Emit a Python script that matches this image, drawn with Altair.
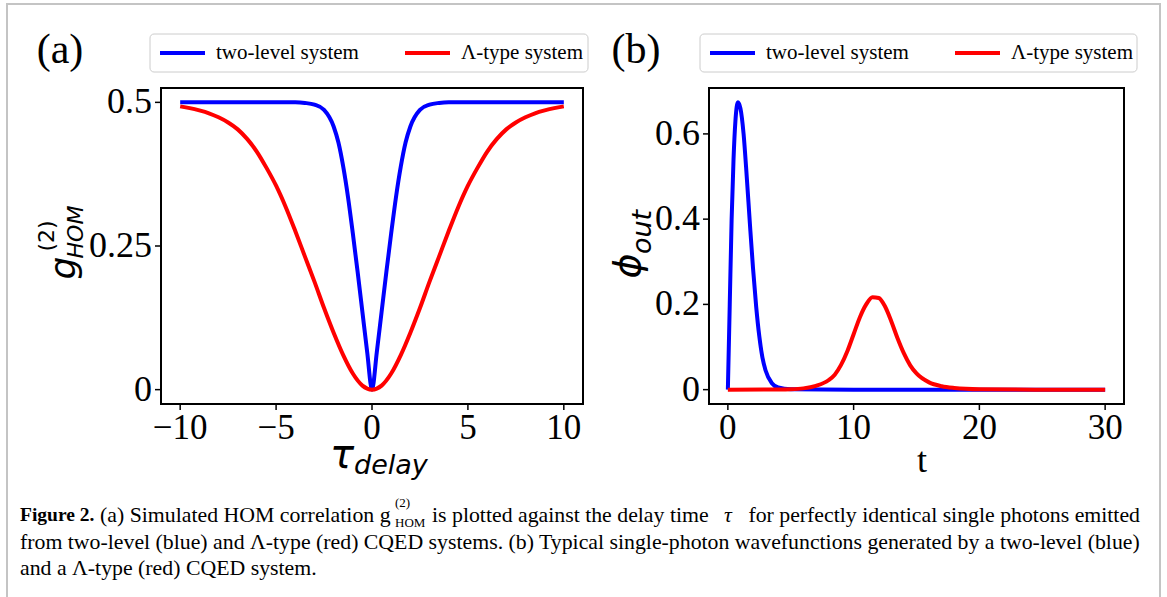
import altair as alt
import pandas as pd

SERIES = ["two-level system", "Λ-type system"]
COLORS = ["#0000ff", "#ff0000"]

# ---------------- panel (a): HOM correlation vs delay ----------------
tau_two = [-10, -6, -4, -3.5, -3, -2.5, -2, -1.75, -1.5, -1.25, -1, -0.75, -0.5, -0.25, 0,
           0.25, 0.5, 0.75, 1, 1.25, 1.5, 1.75, 2, 2.5, 3, 3.5, 4, 6, 10]
g_two = [0.5, 0.5, 0.5, 0.499, 0.496, 0.487, 0.458, 0.43, 0.388, 0.335, 0.272, 0.205, 0.135, 0.065, 0.0,
         0.065, 0.135, 0.205, 0.272, 0.335, 0.388, 0.43, 0.458, 0.487, 0.496, 0.499, 0.5, 0.5, 0.5]
tau_lam = [-10, -9.5, -9, -8.5, -8, -7.5, -7, -6.5, -6, -5.5, -5, -4.5, -4, -3.5, -3, -2.5, -2, -1.5, -1, -0.5, 0,
           0.5, 1, 1.5, 2, 2.5, 3, 3.5, 4, 4.5, 5, 5.5, 6, 6.5, 7, 7.5, 8, 8.5, 9, 9.5, 10]
g_lam = [0.493, 0.49, 0.486, 0.481, 0.474, 0.465, 0.453, 0.436, 0.414, 0.386, 0.355, 0.318, 0.276, 0.232, 0.188, 0.142, 0.099, 0.06, 0.028, 0.007, 0.0,
         0.007, 0.028, 0.06, 0.099, 0.142, 0.188, 0.232, 0.276, 0.318, 0.355, 0.386, 0.414, 0.436, 0.453, 0.465, 0.474, 0.481, 0.486, 0.49, 0.493]

# ---------------- panel (b): output wavefunctions ----------------
t_two = [0, 0.15, 0.3, 0.45, 0.6, 0.8, 1.0, 1.25, 1.5, 1.75, 2.0, 2.25, 2.5, 2.75, 3.0, 3.5, 4.0, 5.0, 10, 20, 30]
phi_two = [0, 0.2, 0.4, 0.54, 0.63, 0.674, 0.66, 0.6, 0.5, 0.39, 0.285, 0.195, 0.125, 0.075, 0.045, 0.015, 0.005, 0.001, 0, 0, 0]
t_lam = [0, 4, 5, 6, 7, 8, 8.5, 9, 9.5, 10, 10.5, 11, 11.5, 12, 12.5, 13, 13.5, 14, 14.5, 15, 16, 17, 18, 20, 25, 30]
phi_lam = [0, 0.0005, 0.001, 0.003, 0.009, 0.022, 0.035, 0.058, 0.09, 0.13, 0.17, 0.2, 0.217, 0.215, 0.195, 0.16,
           0.12, 0.085, 0.057, 0.038, 0.017, 0.008, 0.004, 0.001, 0, 0]

# tick values / labels
xa_ticks = [-10, -5, 0, 5, 10]
xa_labels = ["−10", "−5", "0", "5", "10"]
ya_ticks = [0, 0.25, 0.5]
ya_labels = ["0", "0.25", "0.5"]
xb_ticks = [0, 10, 20, 30]
xb_labels = ["0", "10", "20", "30"]
yb_ticks = [0, 0.2, 0.4, 0.6]
yb_labels = ["0", "0.2", "0.4", "0.6"]

caption_l1 = ["Figure 2.", "(a) Simulated HOM correlation g", "(2)", "HOM",
              "is plotted against the delay time", "τ", "for perfectly identical single photons emitted"]
caption_l2 = "from two-level (blue) and Λ-type (red) CQED systems. (b) Typical single-photon wavefunctions generated by a two-level (blue)"
caption_l3 = "and a Λ-type (red) CQED system."

SERIF = "Liberation Serif"
MATH = "DejaVu Sans"

# layout (pixels)
A_L, A_R, TOP, BOT = 161, 583, 88, 404
B_L, B_R = 709, 1124

xa = alt.Scale(domain=[-11, 11], range=[A_L, A_R])
ya = alt.Scale(domain=[-0.025, 0.525], range=[BOT, TOP])
xb = alt.Scale(domain=[-1.5, 31.5], range=[B_L, B_R])
yb = alt.Scale(domain=[-0.0337, 0.7077], range=[BOT, TOP])
cscale = alt.Scale(domain=SERIES, range=COLORS)

one = pd.DataFrame({"k": [0]})


def curves(xs1, ys1, xs2, ys2, xs, ys):
    df = pd.concat([
        pd.DataFrame({"x": xs1, "y": ys1, "series": SERIES[0], "o": 0}),
        pd.DataFrame({"x": xs2, "y": ys2, "series": SERIES[1], "o": 1}),
    ])
    return alt.Chart(df).mark_line(strokeWidth=4, interpolate="monotone", clip=False).encode(
        x=alt.X("x:Q", scale=xs, axis=None),
        y=alt.Y("y:Q", scale=ys, axis=None),
        color=alt.Color("series:N", scale=cscale, legend=None),
        detail="o:N",
    )


def frame(l, r):
    return alt.Chart(one).mark_rect(fillOpacity=0, stroke="black", strokeWidth=2).encode(
        x=alt.value(l), x2=alt.value(r), y=alt.value(TOP), y2=alt.value(BOT))


def xticks(vals, labels, xs):
    df = pd.DataFrame({"v": vals, "lab": labels})
    base = alt.Chart(df)
    t = base.mark_rule(color="black", strokeWidth=1.5).encode(
        x=alt.X("v:Q", scale=xs, axis=None), y=alt.value(BOT), y2=alt.value(BOT + 6))
    lab = base.mark_text(font=SERIF, fontSize=35, baseline="middle", align="center", color="black").encode(
        x=alt.X("v:Q", scale=xs, axis=None), y=alt.value(BOT + 24), text="lab:N")
    return t + lab


def yticks(vals, labels, ys, left):
    df = pd.DataFrame({"v": vals, "lab": labels})
    base = alt.Chart(df)
    t = base.mark_rule(color="black", strokeWidth=1.5).encode(
        y=alt.Y("v:Q", scale=ys, axis=None), x=alt.value(left - 6), x2=alt.value(left))
    lab = base.mark_text(font=SERIF, fontSize=36, baseline="middle", align="right", color="black").encode(
        y=alt.Y("v:Q", scale=ys, axis=None), x=alt.value(left - 9), text="lab:N")
    return t + lab


def txt(s, x, y, size, font=SERIF, align="left", baseline="middle", angle=0, style="normal", weight="normal"):
    kw = dict(font=font, fontSize=size, align=align, baseline=baseline, color="black",
              fontStyle=style, fontWeight=weight)
    if angle:
        kw["angle"] = angle
    return alt.Chart(one).mark_text(**kw).encode(x=alt.value(x), y=alt.value(y), text=alt.value(s))


def legend(x0, x1):
    box = alt.Chart(one).mark_rect(fill="white", stroke="#cccccc", strokeWidth=1, cornerRadius=4).encode(
        x=alt.value(x0), x2=alt.value(x1), y=alt.value(34), y2=alt.value(72))
    r1 = alt.Chart(one).mark_rule(color=COLORS[0], strokeWidth=4).encode(
        x=alt.value(x0 + 10), x2=alt.value(x0 + 55), y=alt.value(53))
    t1 = txt(SERIES[0], x0 + 66, 53, 21)
    r2 = alt.Chart(one).mark_rule(color=COLORS[1], strokeWidth=4).encode(
        x=alt.value(x0 + 255), x2=alt.value(x0 + 300), y=alt.value(53))
    t2 = txt(SERIES[1], x0 + 311, 53, 21)
    return box + r1 + t1 + r2 + t2


border = alt.Chart(one).mark_rect(fillOpacity=0, stroke="#c4c4c4", strokeWidth=2).encode(
    x=alt.value(7), x2=alt.value(1160), y=alt.value(4), y2=alt.value(640))

panel_a = alt.layer(
    frame(A_L, A_R),
    xticks(xa_ticks, xa_labels, xa),
    yticks(ya_ticks, ya_labels, ya, A_L),
    curves(tau_two, g_two, tau_lam, g_lam, xa, ya),
)
panel_b = alt.layer(
    frame(B_L, B_R),
    xticks(xb_ticks, xb_labels, xb),
    yticks(yb_ticks, yb_labels, yb, B_L),
    curves(t_two, phi_two, t_lam, phi_lam, xb, yb),
)

CAP = 21.8
decor = alt.layer(
    border,
    txt("(a)", 60, 50, 42, align="center"),
    txt("(b)", 636, 50, 42, align="center"),
    legend(150, 588),
    legend(700, 1137),
    # axis titles
    txt("τ", 342, 456, 40, font=MATH, align="center", style="italic"),
    txt("delay", 354, 466, 27, font=MATH, style="italic"),
    txt("t", 922, 461, 36, align="center"),
    txt("g", 64, 268, 36, font=MATH, align="center", angle=270, style="italic"),
    txt("(2)", 47, 236, 22, font=MATH, align="center", angle=270),
    txt("HOM", 76, 232, 22, font=MATH, align="center", angle=270, style="italic"),
    txt("ϕ", 629, 266, 38, font=MATH, align="center", angle=270, style="italic"),
    txt("out", 643, 232, 27, font=MATH, align="center", angle=270, style="italic"),
    # caption
    txt(caption_l1[0], 20, 515, 19.5, weight="bold"),
    txt(caption_l1[1], 100, 515, CAP),
    txt(caption_l1[2], 395, 503, 13),
    txt(caption_l1[3], 395, 523, 13),
    txt(caption_l1[4], 432, 515, CAP),
    txt(caption_l1[5], 728, 515, CAP, align="center", style="italic"),
    txt(caption_l1[6], 1140, 515, CAP, align="right"),
    txt(caption_l2, 20, 542, CAP),
    txt(caption_l3, 20, 568, CAP),
)

chart = alt.layer(decor, panel_a, panel_b).resolve_scale(
    x="independent", y="independent", color="independent"
).properties(
    width=1167, height=597, autosize=alt.AutoSizeParams(type="none"), padding=0, background="white"
).configure_view(stroke=None)

chart.save("out.html", embed_options={"renderer": "svg", "actions": False})
